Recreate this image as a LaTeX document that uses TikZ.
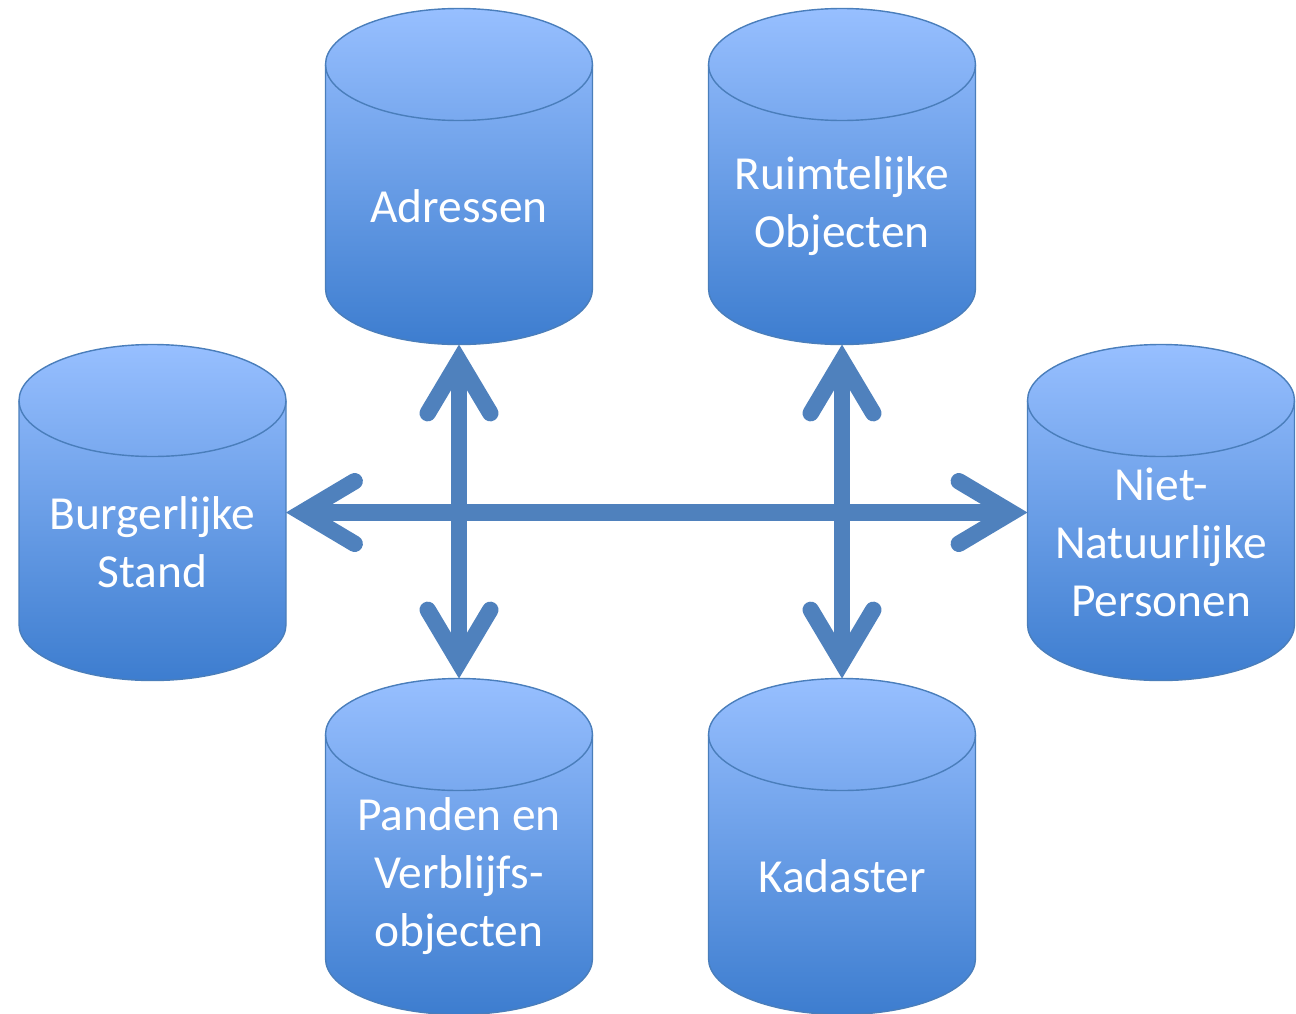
\documentclass[tikz,border=0pt]{standalone}
\usepackage{fontspec}
\setmainfont{Carlito}
\usepackage{tikz}
\usetikzlibrary{arrows.meta}

\definecolor{dbtop}{HTML}{97BFFF}
\definecolor{dbbottom}{HTML}{3D7DCF}
\definecolor{dbline}{HTML}{4A7EBB}
\definecolor{linkblue}{HTML}{4F81BD}

\tikzset{
  dbbox/.style={rectangle, minimum width=5.34cm, minimum height=6.72cm, inner sep=0pt, outer sep=0pt},
  dbshape/.style={draw=dbline, line width=0.8pt, top color=dbtop, bottom color=dbbottom},
  dbrim/.style={draw=dbline, line width=0.8pt},
  dbtext/.style={text=white, align=center, font=\fontsize{27}{33}\selectfont},
  link/.style={draw=linkblue, line width=0.33cm,
    {Straight Barb[length=1.05cm, width=1.25cm, line cap=round]}-{Straight Barb[length=1.05cm, width=1.25cm, line cap=round]}}
}

% database cylinder: name, position, text
\newcommand{\database}[3]{%
  \node[dbbox] (#1) at (#2) {};
  \path[dbshape] ([yshift=-1.12cm]#1.north west) -- ([yshift=1.12cm]#1.south west)
    arc[start angle=180, end angle=360, x radius=2.67cm, y radius=1.12cm]
    -- ([yshift=-1.12cm]#1.north east)
    arc[start angle=0, end angle=180, x radius=2.67cm, y radius=1.12cm] -- cycle;
  \draw[dbrim] ([yshift=-1.12cm]#1.north west)
    arc[start angle=180, end angle=360, x radius=2.67cm, y radius=1.12cm];
  \node[dbtext] (#1-text) at ([yshift=-0.6cm]#1.center) {#3};
}

\begin{document}
\begin{tikzpicture}
\useasboundingbox (0,0) rectangle (25.92,-20.26);
% databases
\database{adressen}{9.18,-3.53}{Adressen}
\database{ruimte}{16.84,-3.53}{Ruimtelijke\\Objecten}
\database{burger}{3.05,-10.25}{Burgerlijke\\Stand}
\database{niet}{23.22,-10.25}{Niet-\\Natuurlijke\\Personen}
\database{panden}{9.18,-16.93}{Panden en\\Verblijfs-\\objecten}
\database{kadaster}{16.84,-16.93}{Kadaster}
% links
\draw[link] (adressen.south) -- (panden.north);
\draw[link] (ruimte.south) -- (kadaster.north);
\draw[link] (burger.east) -- (niet.west);
\end{tikzpicture}
\end{document}
